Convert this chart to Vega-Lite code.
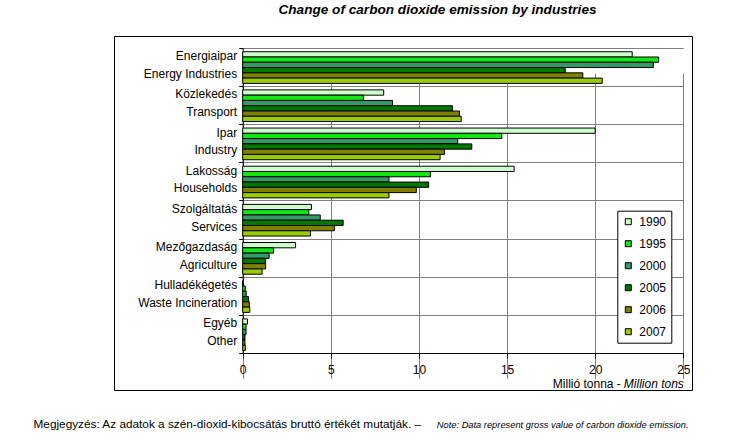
{
  "$schema": "https://vega.github.io/schema/vega-lite/v6.json",
  "autosize": {"type": "none"},
  "padding": {"left": 114, "top": 36, "right": 60, "bottom": 49},
  "width": 578,
  "height": 354,
  "background": "white",
  "title": {
    "text": "Change of carbon dioxide emission by industries",
    "anchor": "middle", "frame": "group", "dx": 34.5, "offset": 2.5,
    "baseline": "alphabetic", "font": "Liberation Sans", "fontSize": 13.6,
    "fontWeight": "bold", "fontStyle": "italic", "color": "black"
  },
  "data": {"values": [
    {"cat": "Energiaipar|Energy Industries", "year": "1990", "value": 22.1},
    {"cat": "Energiaipar|Energy Industries", "year": "1995", "value": 23.6},
    {"cat": "Energiaipar|Energy Industries", "year": "2000", "value": 23.3},
    {"cat": "Energiaipar|Energy Industries", "year": "2005", "value": 18.3},
    {"cat": "Energiaipar|Energy Industries", "year": "2006", "value": 19.3},
    {"cat": "Energiaipar|Energy Industries", "year": "2007", "value": 20.4},
    {"cat": "Közlekedés|Transport", "year": "1990", "value": 8.0},
    {"cat": "Közlekedés|Transport", "year": "1995", "value": 6.85},
    {"cat": "Közlekedés|Transport", "year": "2000", "value": 8.5},
    {"cat": "Közlekedés|Transport", "year": "2005", "value": 11.9},
    {"cat": "Közlekedés|Transport", "year": "2006", "value": 12.3},
    {"cat": "Közlekedés|Transport", "year": "2007", "value": 12.4},
    {"cat": "Ipar|Industry", "year": "1990", "value": 20.0},
    {"cat": "Ipar|Industry", "year": "1995", "value": 14.7},
    {"cat": "Ipar|Industry", "year": "2000", "value": 12.2},
    {"cat": "Ipar|Industry", "year": "2005", "value": 13.0},
    {"cat": "Ipar|Industry", "year": "2006", "value": 11.45},
    {"cat": "Ipar|Industry", "year": "2007", "value": 11.2},
    {"cat": "Lakosság|Households", "year": "1990", "value": 15.4},
    {"cat": "Lakosság|Households", "year": "1995", "value": 10.65},
    {"cat": "Lakosság|Households", "year": "2000", "value": 8.3},
    {"cat": "Lakosság|Households", "year": "2005", "value": 10.55},
    {"cat": "Lakosság|Households", "year": "2006", "value": 9.85},
    {"cat": "Lakosság|Households", "year": "2007", "value": 8.3},
    {"cat": "Szolgáltatás|Services", "year": "1990", "value": 3.9},
    {"cat": "Szolgáltatás|Services", "year": "1995", "value": 3.75},
    {"cat": "Szolgáltatás|Services", "year": "2000", "value": 4.4},
    {"cat": "Szolgáltatás|Services", "year": "2005", "value": 5.7},
    {"cat": "Szolgáltatás|Services", "year": "2006", "value": 5.2},
    {"cat": "Szolgáltatás|Services", "year": "2007", "value": 3.85},
    {"cat": "Mezőgazdaság|Agriculture", "year": "1990", "value": 3.0},
    {"cat": "Mezőgazdaság|Agriculture", "year": "1995", "value": 1.75},
    {"cat": "Mezőgazdaság|Agriculture", "year": "2000", "value": 1.5},
    {"cat": "Mezőgazdaság|Agriculture", "year": "2005", "value": 1.3},
    {"cat": "Mezőgazdaság|Agriculture", "year": "2006", "value": 1.3},
    {"cat": "Mezőgazdaság|Agriculture", "year": "2007", "value": 1.1},
    {"cat": "Hulladékégetés|Waste Incineration", "year": "1990", "value": 0},
    {"cat": "Hulladékégetés|Waste Incineration", "year": "1995", "value": 0.15},
    {"cat": "Hulladékégetés|Waste Incineration", "year": "2000", "value": 0.2},
    {"cat": "Hulladékégetés|Waste Incineration", "year": "2005", "value": 0.33},
    {"cat": "Hulladékégetés|Waste Incineration", "year": "2006", "value": 0.38},
    {"cat": "Hulladékégetés|Waste Incineration", "year": "2007", "value": 0.4},
    {"cat": "Egyéb|Other", "year": "1990", "value": 0.27},
    {"cat": "Egyéb|Other", "year": "1995", "value": 0.19},
    {"cat": "Egyéb|Other", "year": "2000", "value": 0.19},
    {"cat": "Egyéb|Other", "year": "2005", "value": 0.13},
    {"cat": "Egyéb|Other", "year": "2006", "value": 0.13},
    {"cat": "Egyéb|Other", "year": "2007", "value": 0.15}
  ]},
  "layer": [
    {
      "mark": {"type": "bar", "stroke": "black", "strokeWidth": 1},
      "encoding": {
        "x": {
          "field": "value", "type": "quantitative",
          "scale": {"domain": [0, 25], "range": [128.7, 569.3], "nice": false, "zero": true},
          "axis": {
            "orient": "bottom", "offset": -37, "values": [0, 5, 10, 15, 20, 25],
            "grid": true, "gridColor": "#808080", "gridWidth": 1,
            "domainColor": "black", "tickColor": "black", "tickSize": 5,
            "labelFont": "Liberation Sans", "labelFontSize": 12, "labelColor": "black",
            "labelPadding": 6, "labelFlush": false, "labelOverlap": false,
            "title": "Millió tonna -", "titleFont": "Liberation Sans", "titleFontSize": 12,
            "titleFontWeight": "normal", "titleColor": "black", "titleAlign": "left",
            "titleBaseline": "alphabetic", "titleX": 438.3, "titleY": 34.5,
            "minExtent": 0, "maxExtent": 0
          }
        },
        "y": {
          "field": "cat", "type": "nominal",
          "sort": ["Energiaipar|Energy Industries", "Közlekedés|Transport", "Ipar|Industry", "Lakosság|Households", "Szolgáltatás|Services", "Mezőgazdaság|Agriculture", "Hulladékégetés|Waste Incineration", "Egyéb|Other"],
          "scale": {"range": [11.7, 317], "paddingInner": 0, "paddingOuter": 0},
          "axis": {
            "orient": "left", "offset": -128.7, "tickBand": "extent",
            "grid": true, "gridColor": "#808080", "gridWidth": 1,
            "domainColor": "black", "tickColor": "black", "tickSize": 4,
            "labelPadding": 2, "labelExpr": "split(datum.label, '|')", "labelLineHeight": 17.7,
            "labelFont": "Liberation Sans", "labelFontSize": 12, "labelColor": "black",
            "labelOffset": -11,
            "title": "Million tons", "titleFont": "Liberation Sans", "titleFontSize": 12,
            "titleFontStyle": "italic", "titleFontWeight": "normal", "titleColor": "black",
            "titleAngle": 0, "titleAlign": "left", "titleBaseline": "alphabetic",
            "titleX": 380.6, "titleY": 351.5,
            "minExtent": 0, "maxExtent": 0
          }
        },
        "yOffset": {
          "field": "year", "type": "nominal",
          "scale": {"paddingInner": 0, "paddingOuter": 0.615, "align": 0.62}
        },
        "color": {
          "field": "year", "type": "nominal",
          "scale": {
            "domain": ["1990", "1995", "2000", "2005", "2006", "2007"],
            "range": ["#ccffcc", "#14e614", "#339966", "#007800", "#808000", "#99cc00"]
          },
          "legend": {
            "orient": "none", "legendX": 503.3, "legendY": 174.7, "title": null,
            "strokeColor": "black", "fillColor": "white", "padding": 5,
            "symbolType": "square", "symbolSize": 36, "symbolStrokeColor": "black",
            "symbolStrokeWidth": 1, "symbolOpacity": 1,
            "labelFont": "Liberation Sans", "labelFontSize": 12, "labelColor": "black",
            "labelOffset": 5, "rowPadding": 10
          }
        }
      }
    },
    {
      "mark": {"type": "point", "opacity": 0},
      "encoding": {
        "x": {
          "field": "value", "type": "quantitative",
          "axis": {
            "orient": "top", "grid": false, "labels": false, "ticks": false, "domain": false,
            "title": "Megjegyzés: Az adatok a szén-dioxid-kibocsátás bruttó értékét mutatják. –",
            "titleFont": "Liberation Sans", "titleFontSize": 11.8, "titleFontWeight": "normal",
            "titleColor": "black", "titleAlign": "left", "titleBaseline": "alphabetic",
            "titleX": -81, "titleY": 391, "minExtent": 0, "maxExtent": 0
          }
        },
        "y": {
          "field": "value", "type": "quantitative",
          "axis": {
            "orient": "right", "grid": false, "labels": false, "ticks": false, "domain": false,
            "title": "Note: Data represent gross value of carbon dioxide emission.",
            "titleFont": "Liberation Sans", "titleFontSize": 9.3, "titleFontWeight": "normal",
            "titleFontStyle": "italic", "titleColor": "black", "titleAngle": 0,
            "titleAlign": "right", "titleBaseline": "alphabetic",
            "titleX": -4, "titleY": 391, "minExtent": 0, "maxExtent": 0
          }
        }
      }
    }
  ],
  "resolve": {
    "scale": {"x": "independent", "y": "independent"},
    "axis": {"x": "independent", "y": "independent"}
  },
  "config": {
    "view": {"stroke": "black", "strokeWidth": 1}
  }
}
